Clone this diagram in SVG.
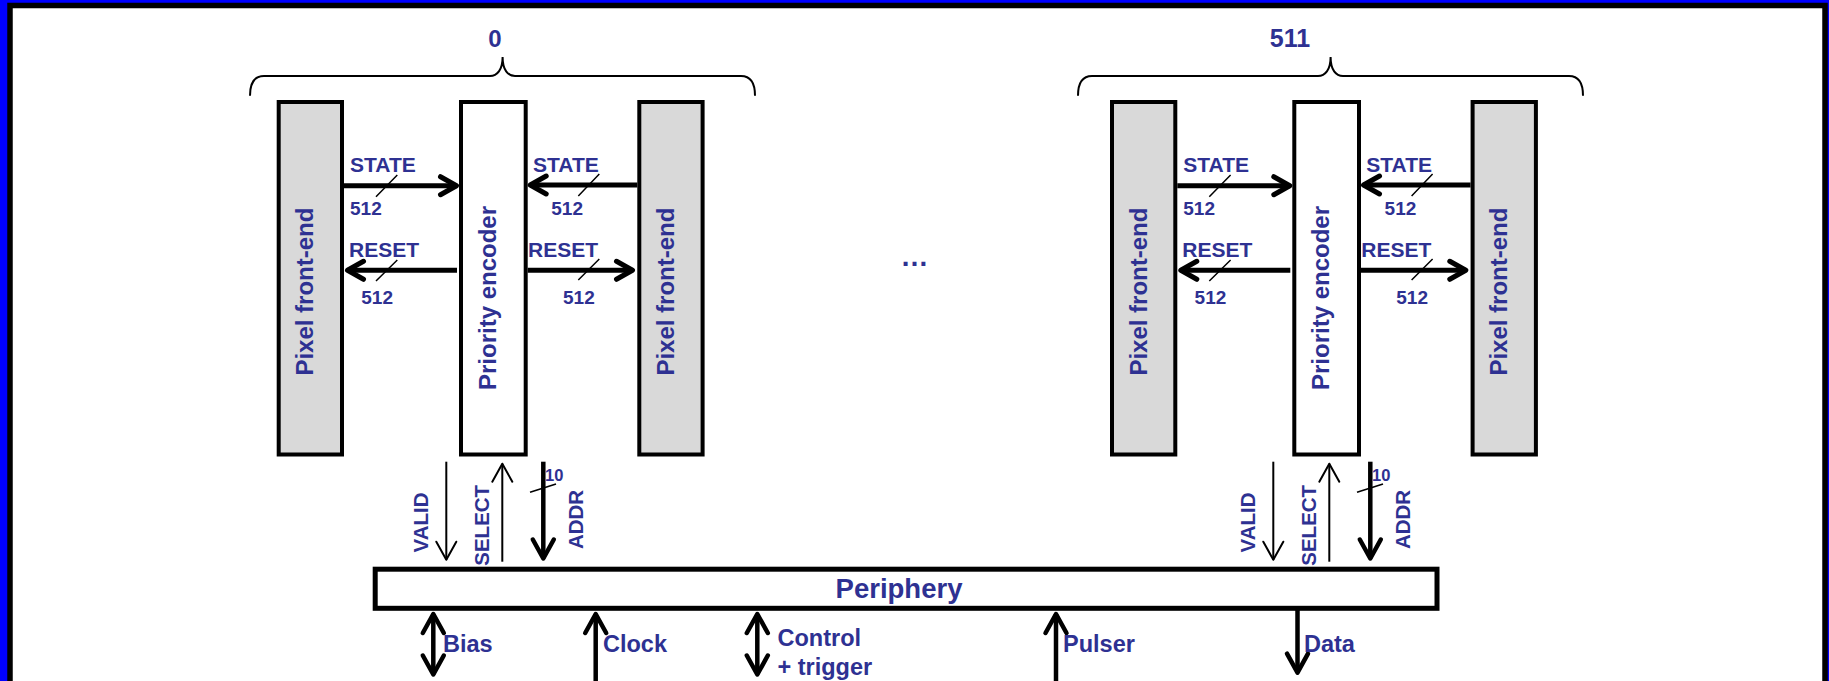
<svg xmlns="http://www.w3.org/2000/svg" width="1829" height="681" viewBox="0 0 1829 681">
<defs>
<style>
.t{font-family:"Liberation Sans",Arial,sans-serif;font-weight:bold;fill:#2e3192}
.lbl{font-size:21px}
.num{font-size:19px}
.rot{font-size:24px;text-anchor:middle}
.vl{font-size:20.5px;text-anchor:middle}
.bt{font-size:23.5px}
.pfe{fill:#d9d9d9;stroke:#000;stroke-width:4}
.pe{fill:#fff;stroke:#000;stroke-width:4}
.thick{fill:none;stroke:#000;stroke-width:5}
.vthick{fill:none;stroke:#000;stroke-width:4.5}
.thin{fill:none;stroke:#000;stroke-width:2}
.sl{fill:none;stroke:#000;stroke-width:1.5}
.brace{fill:none;stroke:#000;stroke-width:2}
</style>
<marker id="hH" markerUnits="userSpaceOnUse" orient="auto-start-reverse" viewBox="-24 -14 30 28" markerWidth="30" markerHeight="28" refX="0" refY="0">
<path d="M-16,-9 L0,0 L-16,9" fill="none" stroke="#000" stroke-width="5" stroke-linejoin="round" stroke-linecap="round"/>
</marker>
<marker id="hV" markerUnits="userSpaceOnUse" orient="auto-start-reverse" viewBox="-26 -15 32 30" markerWidth="32" markerHeight="30" refX="0" refY="0">
<path d="M-19,-10.5 L0,0 L-19,10.5" fill="none" stroke="#000" stroke-width="4.5" stroke-linejoin="round" stroke-linecap="round"/>
</marker>
<marker id="hT" markerUnits="userSpaceOnUse" orient="auto-start-reverse" viewBox="-24 -14 30 28" markerWidth="30" markerHeight="28" refX="0" refY="0">
<path d="M-18,-10 L0,0 L-18,10" fill="none" stroke="#000" stroke-width="2" stroke-linejoin="round" stroke-linecap="round"/>
</marker>
</defs>

<rect x="0" y="0" width="1829" height="681" fill="#0000ff"/>
<rect x="10" y="5.5" width="1815" height="700" fill="#fff" stroke="#000" stroke-width="5.5"/>

<g id="brace0">
<path class="brace" d="M250,95.7 C250,83 254,76 264,76 L490,76 C497,76 502.6,70 502.6,57 C502.6,70 508,76 515,76 L741,76 C751,76 755,83 755,95.7"/>
<text class="t" x="495" y="46.7" font-size="24" text-anchor="middle">0</text>
</g>
<g id="brace511" transform="translate(828,0)">
<path class="brace" d="M250,95.7 C250,83 254,76 264,76 L490,76 C497,76 502.6,70 502.6,57 C502.6,70 508,76 515,76 L741,76 C751,76 755,83 755,95.7"/>
<text class="t" x="462" y="46.7" font-size="25" text-anchor="middle">511</text>
</g>

<g id="pfe0a">
<rect class="pfe" x="278.7" y="102" width="63.3" height="352.5"/>
<text class="t rot" transform="translate(313.3,291.6) rotate(-90)">Pixel front-end</text>
</g>
<g id="pe0">
<rect class="pe" x="461" y="102" width="64.7" height="352.5"/>
<text class="t rot" transform="translate(496,298) rotate(-90)">Priority encoder</text>
</g>
<g id="pfe0b">
<rect class="pfe" x="639.3" y="102" width="63.3" height="352.5"/>
<text class="t rot" transform="translate(674,291.6) rotate(-90)">Pixel front-end</text>
</g>

<g id="pfe511a" transform="translate(833.3,0)">
<rect class="pfe" x="278.7" y="102" width="63.3" height="352.5"/>
<text class="t rot" transform="translate(313.3,291.6) rotate(-90)">Pixel front-end</text>
</g>
<g id="pe511" transform="translate(833.3,0)">
<rect class="pe" x="461" y="102" width="64.7" height="352.5"/>
<text class="t rot" transform="translate(496,298) rotate(-90)">Priority encoder</text>
</g>
<g id="pfe511b" transform="translate(833.3,0)">
<rect class="pfe" x="639.3" y="102" width="63.3" height="352.5"/>
<text class="t rot" transform="translate(674,291.6) rotate(-90)">Pixel front-end</text>
</g>

<g id="periphery">
<rect x="375.2" y="569.2" width="1061.8" height="39.1" fill="#fff" stroke="#000" stroke-width="5"/>
<text class="t" x="899" y="598.3" font-size="27.5" text-anchor="middle">Periphery</text>
</g>

<text class="t" x="914.5" y="266" font-size="28" text-anchor="middle">…</text>

<g id="connectors">
<g id="conn0">
<path class="thick" d="M344,185.7 H456.5" marker-end="url(#hH)"/>
<path class="thick" d="M637.3,185 H530.2" marker-end="url(#hH)"/>
<path class="thick" d="M457,270.3 H347.5" marker-end="url(#hH)"/>
<path class="thick" d="M527.7,270.3 H632.5" marker-end="url(#hH)"/>
<path class="sl" d="M376,196.7 L397.3,175 M578.3,196 L599.3,174 M376,281 L397.3,260 M578.3,280 L599.3,259"/>
<text class="t lbl" x="350" y="172.3">STATE</text>
<text class="t num" x="350" y="215">512</text>
<text class="t lbl" x="533" y="172.3">STATE</text>
<text class="t num" x="551.3" y="215">512</text>
<text class="t lbl" x="349" y="257.3">RESET</text>
<text class="t num" x="361.3" y="304.3">512</text>
<text class="t lbl" x="528" y="257.3">RESET</text>
<text class="t num" x="563" y="304">512</text>
</g>
<g id="conn511" transform="translate(833.3,0)">
<path class="thick" d="M344,185.7 H456.5" marker-end="url(#hH)"/>
<path class="thick" d="M637.3,185 H530.2" marker-end="url(#hH)"/>
<path class="thick" d="M457,270.3 H347.5" marker-end="url(#hH)"/>
<path class="thick" d="M527.7,270.3 H632.5" marker-end="url(#hH)"/>
<path class="sl" d="M376,196.7 L397.3,175 M578.3,196 L599.3,174 M376,281 L397.3,260 M578.3,280 L599.3,259"/>
<text class="t lbl" x="350" y="172.3">STATE</text>
<text class="t num" x="350" y="215">512</text>
<text class="t lbl" x="533" y="172.3">STATE</text>
<text class="t num" x="551.3" y="215">512</text>
<text class="t lbl" x="349" y="257.3">RESET</text>
<text class="t num" x="361.3" y="304.3">512</text>
<text class="t lbl" x="528" y="257.3">RESET</text>
<text class="t num" x="563" y="304">512</text>
</g>
<g id="bus0">
<path class="thin" d="M446.3,461.7 V559.7" marker-end="url(#hT)"/>
<path class="thin" d="M502.3,561.7 V463.7" marker-end="url(#hT)"/>
<path class="vthick" d="M543.3,461.7 V558.5" marker-end="url(#hV)"/>
<path class="sl" d="M530,492.3 L556,484"/>
<text class="t" x="545" y="480.7" font-size="16.5">10</text>
<text class="t vl" transform="translate(428.3,522.5) rotate(-90)">VALID</text>
<text class="t vl" transform="translate(489.3,525.3) rotate(-90)" font-size="21.5">SELECT</text>
<text class="t vl" transform="translate(583.3,519.5) rotate(-90)">ADDR</text>
</g>
<g id="bus511" transform="translate(827,0)">
<path class="thin" d="M446.3,461.7 V559.7" marker-end="url(#hT)"/>
<path class="thin" d="M502.3,561.7 V463.7" marker-end="url(#hT)"/>
<path class="vthick" d="M543.3,461.7 V558.5" marker-end="url(#hV)"/>
<path class="sl" d="M530,492.3 L556,484"/>
<text class="t" x="545" y="480.7" font-size="16.5">10</text>
<text class="t vl" transform="translate(428.3,522.5) rotate(-90)">VALID</text>
<text class="t vl" transform="translate(489.3,525.3) rotate(-90)" font-size="21.5">SELECT</text>
<text class="t vl" transform="translate(583.3,519.5) rotate(-90)">ADDR</text>
</g>
<g id="io">
<path class="vthick" d="M433.3,614 V674.5" marker-start="url(#hV)" marker-end="url(#hV)"/>
<path class="vthick" d="M595.7,681 V614" marker-end="url(#hV)"/>
<path class="vthick" d="M757.3,614 V674.5" marker-start="url(#hV)" marker-end="url(#hV)"/>
<path class="vthick" d="M1056,681 V614" marker-end="url(#hV)"/>
<path class="vthick" d="M1297.5,610 V672.7" marker-end="url(#hV)"/>
<text class="t bt" x="443" y="651.7">Bias</text>
<text class="t bt" x="603" y="651.7">Clock</text>
<text class="t bt" x="777.5" y="646">Control</text>
<text class="t bt" x="777.5" y="675">+ trigger</text>
<text class="t bt" x="1063" y="651.7">Pulser</text>
<text class="t bt" x="1304" y="652.3">Data</text>
</g>
</g>
</svg>
